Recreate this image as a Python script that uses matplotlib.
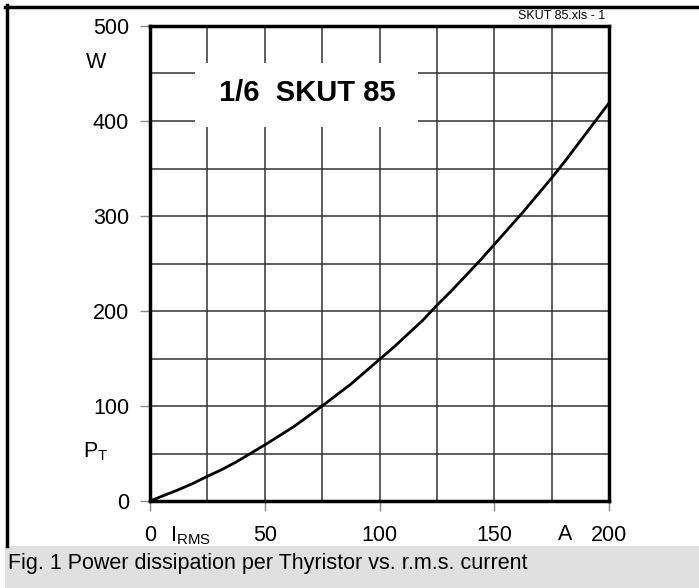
import matplotlib.pyplot as plt
from matplotlib.lines import Line2D
from matplotlib.patches import Rectangle

plt.rcParams['font.family'] = ['Liberation Sans', 'DejaVu Sans']

# curve: r.m.s. current (A) vs power dissipation (W)
i_rms = [0, 6.25, 12.5, 18.75, 25, 31.25, 37.5, 43.75, 50, 56.25, 62.5,
         68.75, 75, 81.25, 87.5, 93.75, 100, 106.25, 112.5, 118.75, 125,
         131.25, 137.5, 143.75, 150, 156.25, 162.5, 168.75, 175, 181.25,
         187.5, 193.75, 200]
p_t = [0, 6, 12, 18.5, 26, 33, 41, 50, 59, 68.5, 78, 89, 100, 111.5, 123,
       136, 149, 162, 176, 190, 206, 221, 237, 253, 270, 287, 304, 322, 340,
       359, 379, 399, 419]

x_ticks = [0, 50, 100, 150, 200]
y_ticks = [0, 100, 200, 300, 400, 500]
x_grid = [25, 50, 75, 100, 125, 150, 175]
y_grid = [50, 100, 150, 200, 250, 300, 350, 400, 450]

fig = plt.figure(figsize=(6.99, 5.88), dpi=100)
ax = fig.add_axes([150 / 699, 1 - 501 / 588, 459 / 699, 475 / 588])

# grid
for gx in x_grid:
    ax.axvline(gx, color='#333333', lw=1.1, zorder=0.5)
for gy in y_grid:
    ax.axhline(gy, color='#333333', lw=1.1, zorder=0.5)

# white box behind the title
ax.add_patch(Rectangle((0.098, 0.787), 0.486, 0.135, transform=ax.transAxes,
                       facecolor='white', edgecolor='none', zorder=1))
ax.text(0.342, 0.858, '1/6  SKUT 85', transform=ax.transAxes, ha='center',
        va='center', fontsize=21, fontweight='bold', zorder=3)

ax.plot(i_rms, p_t, color='black', lw=2, zorder=2)

ax.set_xlim(0, 200)
ax.set_ylim(0, 500)
ax.set_xticks(x_ticks)
ax.set_yticks(y_ticks)
ax.tick_params(axis='both', direction='out', color='#888888', width=1,
               labelsize=15.5)
ax.tick_params(axis='y', length=7, pad=8)
ax.tick_params(axis='x', length=7, pad=10)
for s in ax.spines.values():
    s.set_linewidth(2.5)
    s.set_color('black')

# axis labels placed like the datasheet
fig.text(96 / 699, 1 - 62 / 588, 'W', fontsize=15.5, ha='center',
         va='center')
fig.text(96 / 699, 1 - 452 / 588, r'P$_\mathregular{T}$', fontsize=15.5,
         ha='center', va='center')
fig.text(190 / 699, 1 - 536 / 588, r'I$_\mathregular{RMS}$', fontsize=15.5,
         ha='center', va='center')
fig.text(565 / 699, 1 - 535 / 588, 'A', fontsize=15.5, ha='center',
         va='center')
fig.text(605 / 699, 1 - 16 / 588, 'SKUT 85.xls - 1', fontsize=9,
         ha='right', va='center')

# caption band
fig.add_artist(Rectangle((5 / 699, 0), 1, 42 / 588, transform=fig.transFigure,
                         facecolor='#e0e0e0', edgecolor='none'))
fig.text(8 / 699, 1 - 564 / 588,
         'Fig. 1 Power dissipation per Thyristor vs. r.m.s. current',
         fontsize=15.5, ha='left', va='center')

# page frame (top and left only)
fig.add_artist(Line2D([5 / 699, 1], [1 - 7 / 588, 1 - 7 / 588],
                      transform=fig.transFigure, color='black', lw=2.5))
fig.add_artist(Line2D([7 / 699, 7 / 699], [1 - 5 / 588, 42 / 588],
                      transform=fig.transFigure, color='black', lw=2.5))

fig.savefig('out.png', dpi=100)
